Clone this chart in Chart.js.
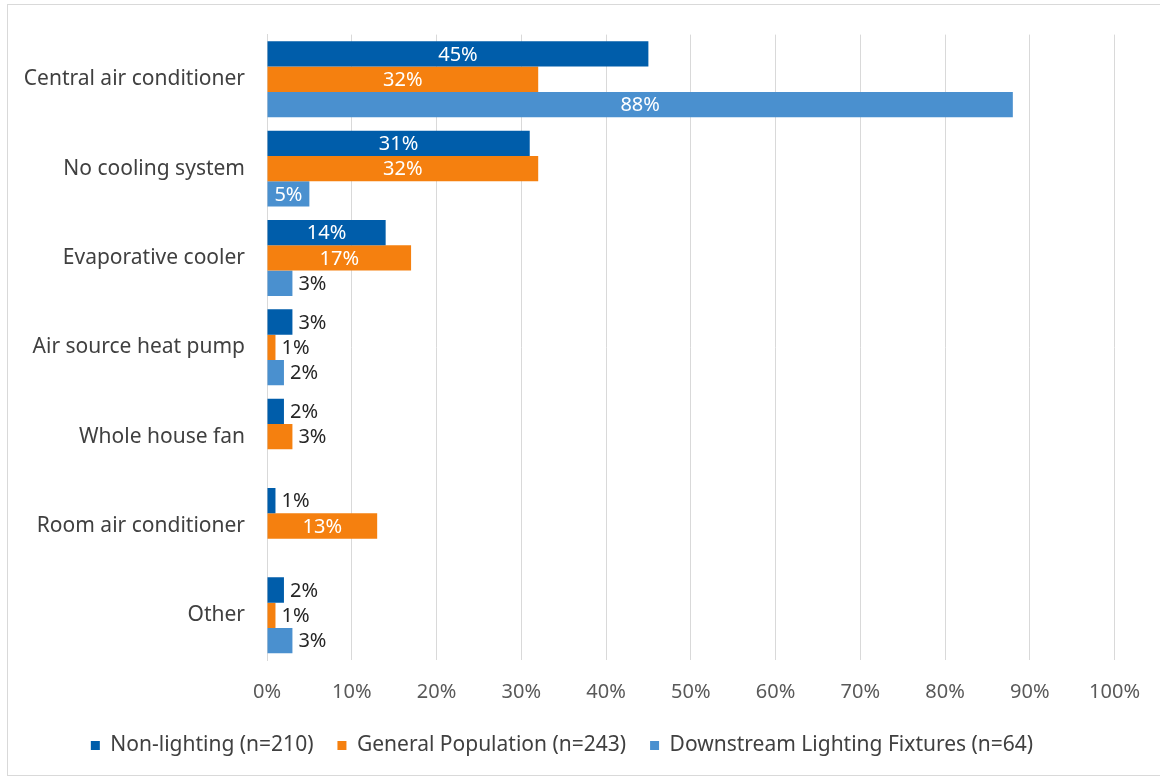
<!DOCTYPE html>
<html>
<head>
<meta charset="utf-8">
<script src="https://cdn.jsdelivr.net/npm/chart.js@4.4.0/dist/chart.umd.min.js"></script>
<style>
  html, body { margin: 0; padding: 0; background: #fff; }
  #wrap { width: 1160px; height: 778px; position: relative; }
</style>
</head>
<body>
<div id="wrap"><canvas id="cooling"></canvas></div>
<script>
const categories = ['Central air conditioner', 'No cooling system', 'Evaporative cooler',
    'Air source heat pump', 'Whole house fan', 'Room air conditioner', 'Other'];
const seriesNames = ['Non-lighting (n=210)', 'General Population (n=243)', 'Downstream Lighting Fixtures (n=64)'];
const nonLighting = [45, 31, 14, 3, 2, 1, 2];
const generalPopulation = [32, 32, 17, 1, 3, 13, 1];
const downstreamFixtures = [88, 5, 3, 2, null, null, 3];
const xTicks = [0, 10, 20, 30, 40, 50, 60, 70, 80, 90, 100];

const FONT = '"Noto Sans", "Open Sans", sans-serif';
const colors = ['#005DAA', '#F5800F', '#4A90CF'];

// thin grey frame around the whole chart
const framePlugin = {
    id: 'frame',
    beforeDraw(chart) {
        const c = chart.ctx;
        c.save();
        c.fillStyle = '#fff';
        c.fillRect(0, 0, chart.width, chart.height);
        c.strokeStyle = '#d9d9d9';
        c.lineWidth = 1;
        c.strokeRect(7.5, 4.5, chart.width + 10, chart.height - 7);
        c.restore();
    }
};

// value labels: white and centred when the bar is wide enough, dark past the end otherwise
const valueLabels = {
    id: 'valueLabels',
    afterDatasetsDraw(chart) {
        const c = chart.ctx;
        c.save();
        c.font = '20px ' + FONT;
        c.textBaseline = 'middle';
        chart.data.datasets.forEach((ds, i) => {
            const meta = chart.getDatasetMeta(i);
            meta.data.forEach((bar, j) => {
                const v = ds.data[j];
                if (v === null || v === undefined) return;
                const txt = v + '%';
                if (v >= 5) {
                    c.fillStyle = '#ffffff';
                    c.textAlign = 'center';
                    c.fillText(txt, (bar.x + bar.base) / 2, bar.y + 1);
                } else {
                    c.fillStyle = '#262626';
                    c.textAlign = 'left';
                    c.fillText(txt, bar.x + 6, bar.y + 1);
                }
            });
        });
        c.restore();
    }
};

new Chart(document.getElementById('cooling'), {
    type: 'bar',
    data: {
        labels: categories,
        datasets: [nonLighting, generalPopulation, downstreamFixtures].map((d, i) => ({
            label: seriesNames[i],
            data: d,
            backgroundColor: colors[i],
            borderWidth: 0,
            categoryPercentage: 0.85,
            barPercentage: 1.0
        }))
    },
    options: {
        indexAxis: 'y',
        responsive: true,
        maintainAspectRatio: false,
        animation: false,
        layout: { padding: { top: 33, right: 36, left: 0, bottom: 12 } },
        scales: {
            x: {
                min: 0,
                max: 100,
                afterBuildTicks(scale) { scale.ticks = xTicks.map(v => ({ value: v })); },
                afterFit(scale) { scale.height = 51; },
                grid: { color: '#d9d9d9', drawTicks: false },
                border: { display: false },
                ticks: {
                    padding: 20,
                    color: '#595959',
                    font: { family: FONT, size: 20 },
                    callback: v => v + '%'
                }
            },
            y: {
                afterFit(scale) { scale.width = 267; },
                grid: { display: false, drawTicks: false },
                border: { display: true, color: '#d9d9d9' },
                ticks: {
                    padding: 22,
                    color: '#404040',
                    font: { family: FONT, size: 21 }
                }
            }
        },
        plugins: {
            legend: {
                position: 'bottom',
                labels: {
                    boxWidth: 9,
                    boxHeight: 9,
                    padding: 24,
                    color: '#404040',
                    font: { family: FONT, size: 21 }
                }
            },
            tooltip: { enabled: false }
        }
    },
    plugins: [framePlugin, valueLabels]
});
</script>
</body>
</html>
